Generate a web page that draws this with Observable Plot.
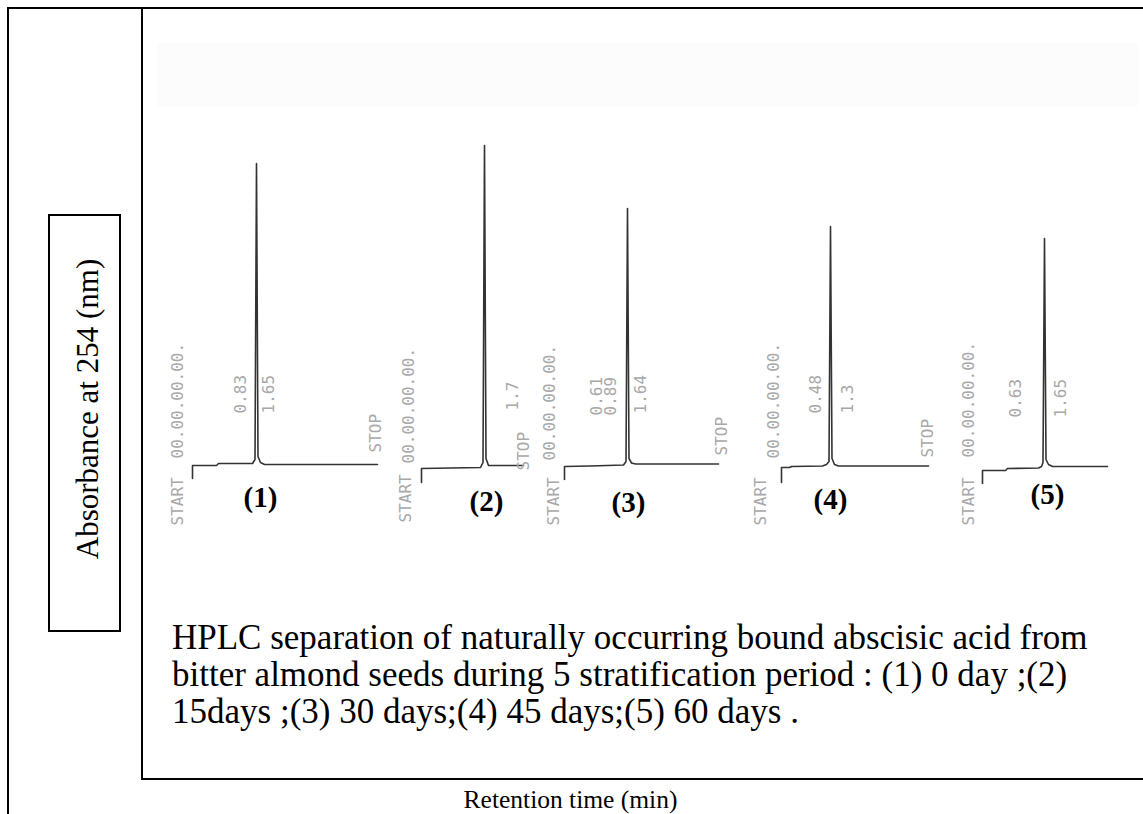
<!DOCTYPE html>
<html>
<head>
<meta charset="utf-8">
<script src="https://cdn.jsdelivr.net/npm/d3@7"></script>
<script src="https://cdn.jsdelivr.net/npm/@observablehq/plot@0.6"></script>
<style>
  html, body { margin: 0; padding: 0; background: #fff; }
  #page { position: relative; width: 1143px; height: 814px; overflow: hidden; background: #fff; font-family: "Liberation Serif", "Times New Roman", serif; color: #000; }
  .rule { position: absolute; background: #000; }
  #band { position: absolute; left: 157px; top: 43px; width: 981px; height: 64px; background: #fcfcfc; }
  #ybox { position: absolute; left: 48px; top: 214px; width: 73px; height: 418px; border: 2px solid #000; box-sizing: border-box; }
  #ylab { position: absolute; left: 87px; top: 409px; transform: translate(-50%, -50%) rotate(-90deg); white-space: nowrap; font-size: 31px; line-height: 31px; }
  #caption { position: absolute; left: 172px; top: 619px; font-size: 35px; line-height: 37px; white-space: nowrap; }
  #xlab { position: absolute; left: 0; width: 1141px; top: 786px; text-align: center; font-size: 25.5px; line-height: 27px; white-space: nowrap; }
  #plot { position: absolute; left: 150px; top: 120px; }
</style>
</head>
<body>
<div id="page">
  <div id="band"></div>
  <div class="rule" style="left:7px;top:7px;width:1136px;height:2px"></div>
  <div class="rule" style="left:7px;top:7px;width:2px;height:807px"></div>
  <div class="rule" style="left:141px;top:7px;width:2px;height:773px"></div>
  <div class="rule" style="left:141px;top:778px;width:1002px;height:2px"></div>
  <div id="ybox"></div>
  <div id="ylab">Absorbance at 254 (nm)</div>
  <div id="plot"></div>
  <div id="caption">HPLC separation of naturally occurring bound abscisic acid from<br>bitter almond seeds during 5 stratification period : (1) 0 day ;(2)<br>15days ;(3) 30 days;(4) 45 days;(5) 60 days .</div>
  <div id="xlab">Retention time (min)</div>
</div>
<script>
// ---- Data (chart position along the strip, detector signal) ----
const traceIds = ["(1)", "(2)", "(3)", "(4)", "(5)"];

const trace1Pos = [192, 192, 216, 218, 252, 254.5, 256, 257.5, 260, 264, 377];
const trace1Sig = [-14, -1, -1, 1, 1, 5, 301, 8, 2, 0, 0];

const trace2Pos = [421, 421, 450, 480, 482.5, 484, 485.5, 488, 492, 523];
const trace2Sig = [-18, -4, -3.5, -3, 2, 319, 6, -1, -1, -1];

const trace3Pos = [564, 564, 590, 623, 625.5, 627, 628.5, 631, 635, 718];
const trace3Sig = [-15, -2, -1.5, -0.5, 3, 256, 6, 1.5, 0.5, 0.5];

const trace4Pos = [781, 781, 789, 791, 822, 826, 828.5, 830, 831.5, 834, 838, 928];
const trace4Sig = [-18, -3, -3, -2, -1.5, 0, 3, 238, 6, 0, -1.5, -1.5];

const trace5Pos = [982, 982, 1005, 1007, 1038, 1041, 1042.5, 1044, 1045.5, 1048, 1052, 1107];
const trace5Sig = [-19, -6, -6, -4, -3.5, -2, 2, 226, 5, 0, -2, -2];

// printer annotations (rotated text on the chart paper)
const annoText  = ["START", "00.00.00.00.", "0.83", "1.65", "STOP",
                   "START", "00.00.00.00.", "1.7", "STOP",
                   "START", "00.00.00.00.", "0.61", "0.89", "1.64", "STOP",
                   "START", "00.00.00.00.", "0.48", "1.3", "STOP",
                   "START", "00.00.00.00.", "0.63", "1.65"];
const annoPos   = [177, 177, 240, 268, 375,
                   405, 408, 512, 523,
                   553, 549, 596, 610, 640, 721,
                   760, 773, 815, 847, 927,
                   968, 968, 1015, 1060];
const annoLevel = [-61, 6, 51, 51, 12,
                   -58, 1, 54, -6,
                   -61, 4, 49, 49, 51, 9,
                   -61, 6, 51, 51, 7,
                   -61, 7, 47, 47];

// panel labels
const labelPos   = [260, 486, 628, 830, 1047];
const labelLevel = [-33, -37, -38, -35, -30];

// ---- Build tables ----
const traceSets = [
  [trace1Pos, trace1Sig], [trace2Pos, trace2Sig], [trace3Pos, trace3Sig],
  [trace4Pos, trace4Sig], [trace5Pos, trace5Sig]
];
const lineRows = traceSets.flatMap(([p, s], i) =>
  p.map((v, j) => ({trace: traceIds[i], pos: v, sig: s[j]})));
const annoRows = annoText.map((t, i) => ({text: t, pos: annoPos[i], level: annoLevel[i]}));
const labelRows = traceIds.map((t, i) => ({text: t, pos: labelPos[i], level: labelLevel[i]}));

const chart = Plot.plot({
  width: 980,
  height: 420,
  margin: 0,
  x: {domain: [150, 1130], axis: null},
  y: {domain: [-76, 344], axis: null},
  style: {background: "transparent", overflow: "visible"},
  marks: [
    Plot.line(lineRows, {x: "pos", y: "sig", z: "trace", stroke: "#333", strokeWidth: 1.6, curve: "linear"}),
    Plot.text(annoRows, {x: "pos", y: "level", text: "text", rotate: -90, textAnchor: "start",
      fontFamily: "DejaVu Sans Mono, Liberation Mono, monospace", fontSize: 16, fill: "#a8a8a8"}),
    Plot.text(labelRows, {x: "pos", y: "level", text: "text",
      fontFamily: "Liberation Serif, Times New Roman, serif", fontSize: 29, fontWeight: "bold", fill: "#000"})
  ]
});
document.getElementById("plot").appendChild(chart);
</script>
</body>
</html>
